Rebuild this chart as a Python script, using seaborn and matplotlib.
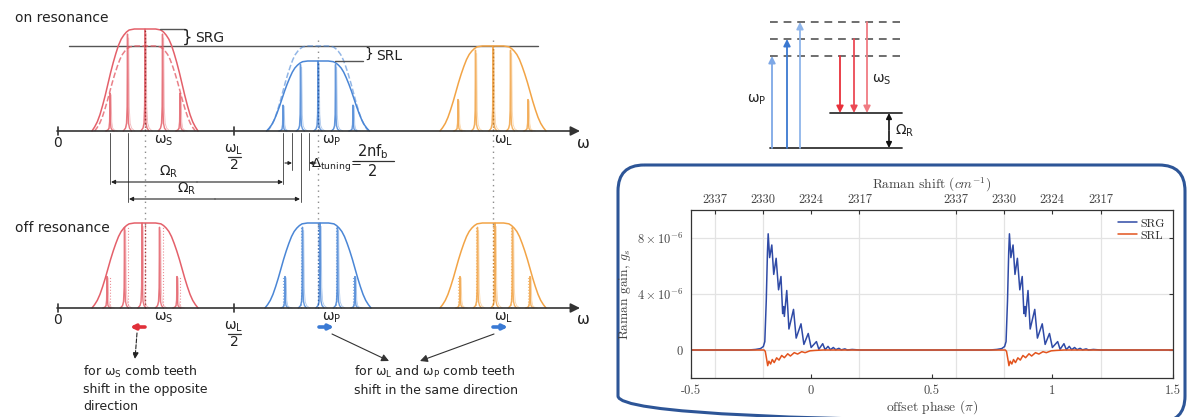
import numpy as np
import pandas as pd
import seaborn as sns
import matplotlib.pyplot as plt
from matplotlib.patches import FancyBboxPatch

# ---- chart data ----
# one lobe of the SRG / SRL response; it repeats every 1 pi of offset phase
srg_phase = [-0.26, -0.23, -0.21, -0.198, -0.192, -0.186, -0.181, -0.178, -0.172, -0.163,
             -0.155, -0.145, -0.135, -0.125, -0.118, -0.114, -0.111, -0.101, -0.092, -0.073,
             -0.062, -0.042, -0.030, -0.012, 0.000, 0.022, 0.032, 0.048, 0.058, 0.070,
             0.080, 0.092, 0.102, 0.115, 0.125, 0.140, 0.150, 0.170, 0.200]
srg_gain = [0.0, 0.04, 0.1, 0.25, 0.6, 3.5, 7.0, 8.3, 6.6, 7.5,
            5.4, 6.55, 4.3, 5.25, 2.6, 3.1, 2.4, 4.25, 1.5, 2.9,
            0.85, 1.87, 0.4, 1.18, 0.18, 0.6, 0.05, 0.45, 0.02, 0.26,
            0.02, 0.18, 0.02, 0.12, 0.01, 0.08, 0.0, 0.04, 0.0]
srl_phase = [-0.26, -0.195, -0.19, -0.184, -0.180, -0.175, -0.168, -0.161, -0.153, -0.143,
             -0.133, -0.122, -0.111, -0.097, -0.086, -0.070, -0.056, -0.039, -0.025, -0.005,
             0.016, 0.050, 0.200]
srl_gain = [0.0, 0.0, -0.1, -0.7, -1.12, -0.8, -1.0, -0.68, -0.9, -0.56,
            -0.72, -0.39, -0.55, -0.27, -0.43, -0.19, -0.29, -0.12, -0.19, -0.06,
            -0.03, 0.0, 0.0]
lobe_starts = [0.0, 1.0]
phase_range = [-0.5, 1.5]
gain_scale = 1e-6

bottom_ticks = [-0.5, 0, 0.5, 1, 1.5]
bottom_labels = ['-0.5', '0', '0.5', '1', '1.5']
top_ticks = [-0.4, -0.2, 0.0, 0.2, 0.6, 0.8, 1.0, 1.2]
top_labels = ['2337', '2330', '2324', '2317', '2337', '2330', '2324', '2317']
y_ticks = [0, 4e-6, 8e-6]
y_labels = ['$0$', r'$4\times10^{-6}$', r'$8\times10^{-6}$']


def build(phase, gain, name):
    xs = [phase_range[0]]
    ys = [0.0]
    for s in lobe_starts:
        xs += [p + s for p in phase]
        ys += list(gain)
    xs.append(phase_range[1])
    ys.append(0.0)
    return pd.DataFrame({'phase': xs, 'gain': np.array(ys) * gain_scale, 'signal': name})


df = pd.concat([build(srg_phase, srg_gain, 'SRG'), build(srl_phase, srl_gain, 'SRL')])

sns.set_theme(style='white')
plt.rcParams['font.family'] = ['cmr10', 'DejaVu Serif']
plt.rcParams['mathtext.fontset'] = 'cm'
plt.rcParams['axes.unicode_minus'] = False

W, H = 1191, 417
fig = plt.figure(figsize=(W / 100, H / 100), dpi=100)

# ---- overlay axes in pixel coordinates for the schematics ----
ax0 = fig.add_axes([0, 0, 1, 1], zorder=0)
ax0.set_xlim(0, W)
ax0.set_ylim(H, 0)
ax0.axis('off')

RED = '#e4606a'
BLUE = '#4a86d6'
ORANGE = '#f2a446'
GREY = '#555555'


def stext(x, y, s, size=9.5, **kw):
    ax0.text(x, y, s, fontsize=size, family='DejaVu Sans', math_fontfamily='dejavusans',
             color='#222222', **kw)


def arrow(x1, y1, x2, y2, color='#222222', style='-|>', lw=0.8, ms=7, ls='-'):
    ax0.annotate('', xy=(x2, y2), xytext=(x1, y1),
                 arrowprops=dict(arrowstyle=style, color=color, lw=lw, mutation_scale=ms,
                                 shrinkA=0, shrinkB=0, linestyle=ls))


# envelope profile (fraction of half width -> fraction of height)
env_u = np.array([0, .2, .3, .35, .4, .45, .5, .55, .6, .65, .7, .75, .8, .85, .9, .95, 1.0])
env_h = np.array([1, 1, .99, .97, .94, .9, .84, .76, .67, .57, .46, .35, .25, .16, .09, .04, 0])
tooth_dx = np.array([-4, -2, -1, -0.4, 0, 0.4, 1, 2, 4])
tooth_dh = np.array([0, .03, .08, .25, 1, .25, .08, .03, 0])
tooth_off = np.array([-2, -1, 0, 1, 2]) * 17.5
tooth_frac = [0.37, 0.95, 1.0, 0.95, 0.37]


def envelope(cx, base, height, hw, color, ls='-', lw=1.0, alpha=1.0):
    xs = cx + np.concatenate([-env_u[::-1], env_u[1:]]) * hw
    ys = base - height * np.concatenate([env_h[::-1], env_h[1:]])
    ax0.plot(xs, ys, color=color, ls=ls, lw=lw, alpha=alpha)


def teeth(cx, base, height, color, shift=0.0):
    for o, f in zip(tooth_off, tooth_frac):
        h = height * f
        ax0.plot(cx + o + shift + tooth_dx, base - h * tooth_dh, color=color, lw=1.0, alpha=0.85)
        ax0.plot(cx + o + shift + 1.2 + tooth_dx * 1.5, base - h * 0.96 * tooth_dh,
                 color=color, lw=0.6, alpha=0.45)
        if shift != 0:
            ax0.plot([cx + o, cx + o], [base, base - h], color=color, lw=0.8, ls=':', alpha=0.7)
    ax0.plot([cx, cx], [base, base - height], color='#8a1a1a' if color == RED else
             ('#1d4f9a' if color == BLUE else '#b86a10'), lw=1.0, ls=':', alpha=0.8)


hw = 53

# dotted guide lines at the carrier frequencies
for c in (145, 318, 493):
    ax0.plot([c, c], [40, 225], color='#8c8c8c', lw=1.0, ls=(0, (1, 3)))

# ---- on resonance ----
y1 = 131
stext(15, 18, 'on resonance', size=10, va='center')
ax0.plot([69, 538], [46, 46], color=GREY, lw=1.0)
envelope(145, y1, 102, hw, RED, lw=1.1)
envelope(145, y1, 85, hw * 0.95, RED, ls='--', lw=1.1, alpha=0.8)
teeth(145, y1, 102, RED)
envelope(318, y1, 70, hw * 0.97, BLUE, lw=1.1)
envelope(318, y1, 85, hw * 0.95, BLUE, ls='--', lw=1.1, alpha=0.6)
teeth(318, y1, 70, BLUE)
envelope(493, y1, 85, hw, ORANGE, lw=1.1)
teeth(493, y1, 85, ORANGE)
ax0.plot([160, 185], [29, 29], color=GREY, lw=1.0)
ax0.plot([335, 363], [61, 61], color=GREY, lw=1.0)
stext(182, 37.5, '}', size=12, va='center')
stext(195, 38, 'SRG', size=10, va='center')
stext(364, 53.5, '}', size=10, va='center')
stext(376, 56, 'SRL', size=10, va='center')

# ---- off resonance ----
y2 = 308
stext(15, 228, 'off resonance', size=10, va='center')
envelope(145, y2, 85, hw, RED, lw=1.1)
teeth(145, y2, 85, RED, shift=-3)
envelope(318, y2, 85, hw, BLUE, lw=1.1)
teeth(318, y2, 85, BLUE, shift=2)
envelope(493, y2, 85, hw, ORANGE, lw=1.1)
teeth(493, y2, 85, ORANGE, shift=2)

# frequency axes
for yb in (y1, y2):
    arrow(57, yb, 580, yb, color='#333333', lw=1.2, ms=14)
    for tx in (58, 234):
        ax0.plot([tx, tx], [yb - 4, yb + 4], color='#333333', lw=1.2)
    stext(58, yb + 12, '0', size=10, ha='center', va='center')
    stext(583, yb + 12, 'ω', size=11, ha='center', va='center')
    stext(154, yb + 10, 'ω$_\\mathrm{S}$', size=10, va='center')
    stext(322, yb + 10, 'ω$_\\mathrm{P}$', size=10, va='center')
    stext(494, yb + 10, 'ω$_\\mathrm{L}$', size=10, va='center')
    stext(234, yb + 19, 'ω$_\\mathrm{L}$', size=10, ha='center', va='center')
    ax0.plot([228, 241], [yb + 26, yb + 26], color='#333333', lw=0.9)
    stext(234, yb + 34, '2', size=10, ha='center', va='center')

# Omega_R spans and detuning
for x, yend in [(110, 184), (128, 202), (283, 184), (292, 170), (301, 202), (309, 170)]:
    ax0.plot([x, x], [y1 + 2, yend], color='#555555', lw=0.7)
arrow(197, 182, 111, 182, style='-|>', ms=6)
arrow(197, 182, 283, 182, style='-|>', ms=6)
arrow(215, 199, 129, 199, style='-|>', ms=6)
arrow(215, 199, 300, 199, style='-|>', ms=6)
stext(169, 172, 'Ω$_\\mathrm{R}$', size=10, ha='center', va='center')
stext(187, 189, 'Ω$_\\mathrm{R}$', size=10, ha='center', va='center')
arrow(285, 163, 292, 163, ms=5)
arrow(316, 163, 309, 163, ms=5)
stext(311, 164, 'Δ$_\\mathrm{tuning}$=', size=9.5, va='center')
stext(373, 152, '2nf$_\\mathrm{b}$', size=10.5, ha='center', va='center')
ax0.plot([353, 394], [161, 161], color='#333333', lw=0.9)
stext(373, 171, '2', size=10.5, ha='center', va='center')

# comb-tooth shift markers and notes
arrow(145, 327, 130, 327, color='#e0303a', lw=2.6, ms=7)
arrow(319, 327, 334, 327, color='#3a7ad4', lw=2.6, ms=7)
arrow(493, 327, 508, 327, color='#3a7ad4', lw=2.6, ms=7)
arrow(137, 333, 135, 359, ls='--', ms=9)
arrow(332, 334, 389, 361, color='#333333', ms=11)
arrow(494, 334, 420, 361, color='#333333', ms=11)
stext(83, 372, 'for ω$_\\mathrm{S}$ comb teeth', size=9, va='center')
stext(83, 390, 'shift in the opposite', size=9, va='center')
stext(83, 407, 'direction', size=9, va='center')
stext(354, 372, 'for ω$_\\mathrm{L}$ and ω$_\\mathrm{P}$ comb teeth', size=9, va='center')
stext(354, 390, 'shift in the same direction', size=9, va='center')

# ---- energy level diagram ----
for yl in (22, 39, 56):
    ax0.plot([770, 900], [yl, yl], color='#6e6e6e', lw=1.4, ls=(0, (4, 3)))
ax0.plot([770, 902], [148, 148], color='#333333', lw=1.3)
ax0.plot([830, 902], [113, 113], color='#333333', lw=1.3)
arrow(772, 148, 772, 56, color='#7ea8e6', lw=1.3, ms=10)
arrow(787, 148, 787, 39, color='#3a78d0', lw=1.3, ms=10)
arrow(800, 148, 800, 22, color='#8fb5ea', lw=1.3, ms=10)
arrow(840, 56, 840, 113, color='#e8303a', lw=1.3, ms=10)
arrow(854, 39, 854, 113, color='#ec4a55', lw=1.3, ms=10)
arrow(867, 22, 867, 113, color='#f07b82', lw=1.3, ms=10)
arrow(889, 130, 889, 113, color='#111111', lw=1.2, ms=8)
arrow(889, 131, 889, 148, color='#111111', lw=1.2, ms=8)
stext(757, 100, 'ω$_\\mathrm{P}$', size=10, ha='center', va='center')
stext(872, 80, 'ω$_\\mathrm{S}$', size=10, va='center')
stext(895, 131, 'Ω$_\\mathrm{R}$', size=10, va='center')

# rounded frame around the plot
ax0.add_patch(FancyBboxPatch((618, 165), 567, 257, boxstyle='round,pad=0,rounding_size=26',
                             ec='#2d5597', fc='none', lw=2.2, clip_on=False))

# ---- Raman gain chart ----
ax = fig.add_axes([690.5 / W, 39 / H, (1173 - 690.5) / W, 168 / H], zorder=2)
sns.lineplot(data=df, x='phase', y='gain', hue='signal', hue_order=['SRG', 'SRL'],
             palette={'SRG': '#2f4aa6', 'SRL': '#e2541e'}, estimator=None, sort=False,
             lw=1.1, ax=ax)
ax.set_xlim(*phase_range)
ax.set_ylim(-2e-6, 1e-5)
ax.set_xticks(bottom_ticks)
ax.set_xticklabels(bottom_labels)
ax.set_xticks(top_ticks, minor=True)
ax.set_yticks(y_ticks)
ax.set_yticklabels(y_labels)
ax.set_axisbelow(True)
ax.grid(which='major', axis='y', color='#e3e3e3', lw=0.9)
ax.grid(which='minor', axis='x', color='#e3e3e3', lw=0.9)
ax.tick_params(which='major', direction='in', length=3, width=0.8, color='#333333',
               labelsize=9, labelcolor='#444444', right=True, pad=5)
ax.tick_params(which='minor', length=0)
ax.set_xlabel('offset phase ($\\pi$)', fontsize=9.7, color='#444444', labelpad=1)
ax.set_ylabel('Raman gain, $g_s$', fontsize=9.7, color='#444444', labelpad=3)
for sp in ax.spines.values():
    sp.set_color('#333333')
    sp.set_linewidth(0.9)
ax.legend(loc='upper right', frameon=False, fontsize=8.5, handlelength=1.6,
          handletextpad=0.3, labelspacing=0.15, borderaxespad=0.3)

ax2 = ax.twiny()
ax2.set_xlim(*phase_range)
ax2.set_xticks(top_ticks)
ax2.set_xticklabels(top_labels)
ax2.tick_params(direction='in', length=3, width=0.8, color='#333333', labelsize=9,
                labelcolor='#444444', pad=3)
ax2.set_xlabel('Raman shift ($cm^{-1}$)', fontsize=9.7, color='#444444', labelpad=4)
ax2.grid(False)
for sp in ax2.spines.values():
    sp.set_visible(False)

fig.savefig('out.png', dpi=100)
